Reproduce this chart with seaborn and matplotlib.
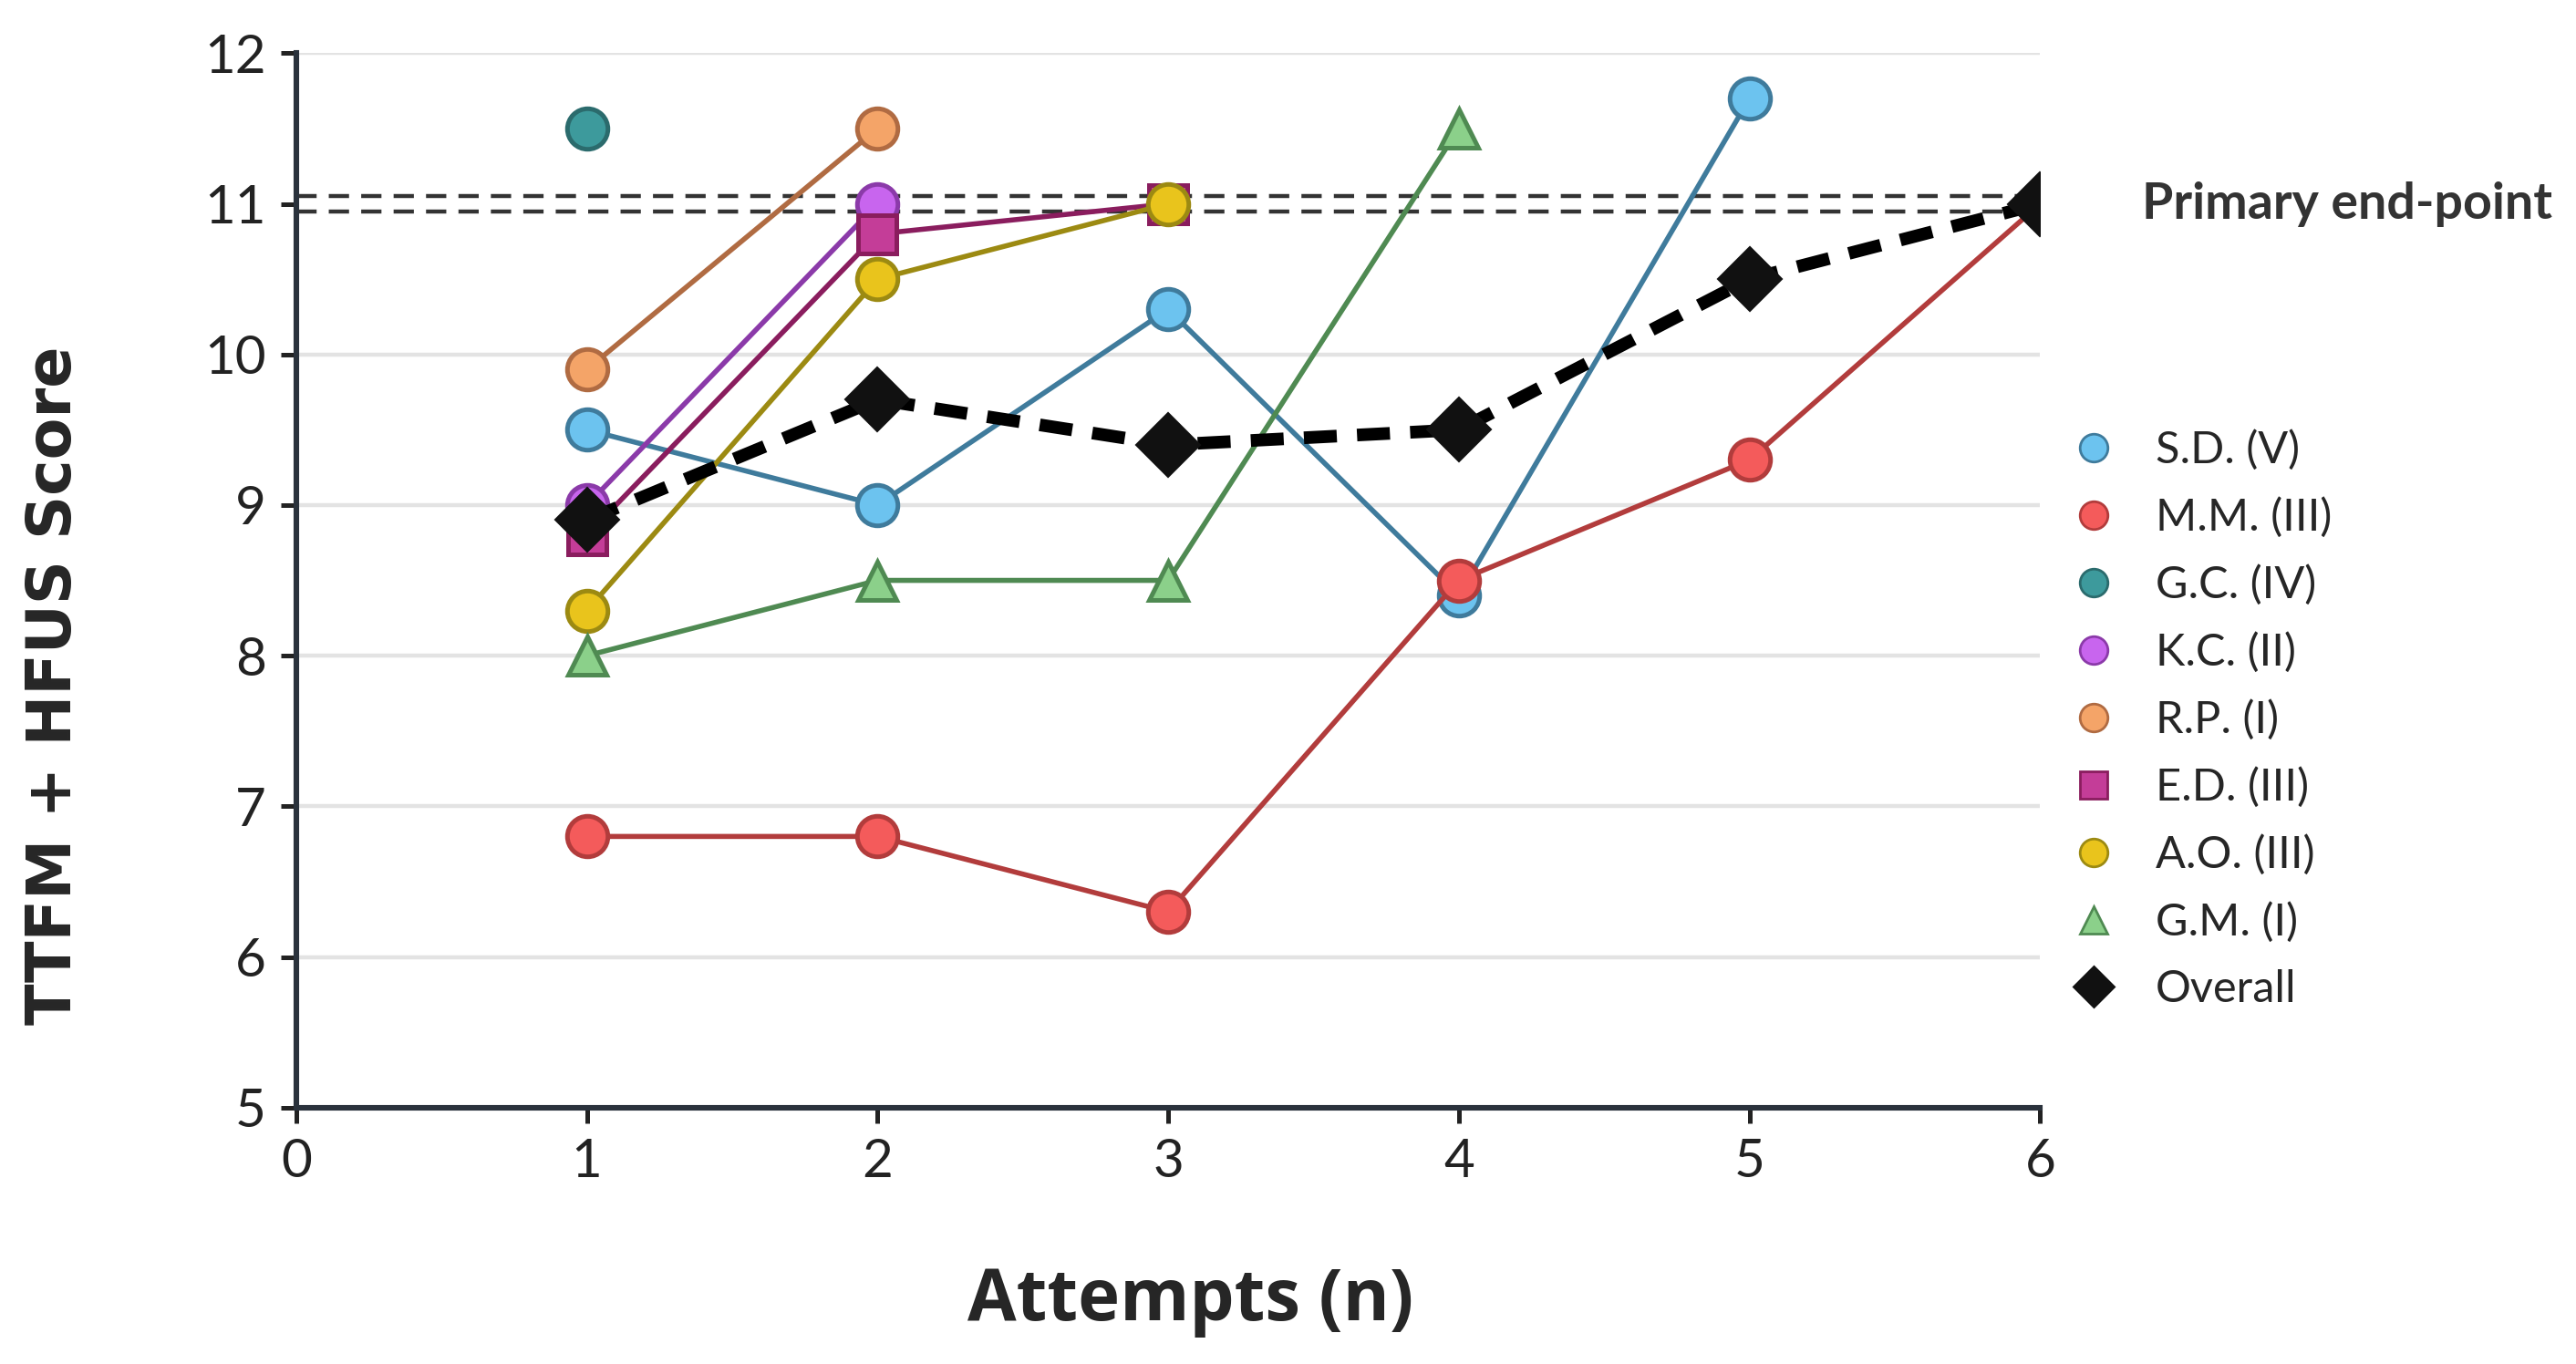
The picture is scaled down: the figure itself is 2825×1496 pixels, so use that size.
import numpy as np
import pandas as pd
import seaborn as sns
import matplotlib.pyplot as plt
from matplotlib.lines import Line2D

# scores per patient by attempt
attempts = [1, 2, 3, 4, 5, 6]
sd_scores = [9.5, 9.0, 10.3, 8.4, 11.7]
mm_scores = [6.8, 6.8, 6.3, 8.5, 9.3, 11.0]
gc_scores = [11.5]
kc_scores = [9.0, 11.0]
rp_scores = [9.9, 11.5]
ed_scores = [8.8, 10.8, 11.0]
ao_scores = [8.3, 10.5, 11.0]
gm_scores = [8.0, 8.5, 8.5, 11.5]
overall_scores = [8.9, 9.7, 9.4, 9.5, 10.5, 11.0]
endpoint = 11

names = ['S.D. (V)', 'M.M. (III)', 'G.C. (IV)', 'K.C. (II)', 'R.P. (I)',
         'E.D. (III)', 'A.O. (III)', 'G.M. (I)']
series = [sd_scores, mm_scores, gc_scores, kc_scores, rp_scores,
          ed_scores, ao_scores, gm_scores]
face_cols = ['#6cc3ef', '#f45b5b', '#3d9a9c', '#c865ee', '#f4a468',
             '#c43d98', '#e9c41c', '#8bd08a']
line_cols = ['#3f7b9c', '#b23c3c', '#2b6b6d', '#8b3aa9', '#b06b42',
             '#8a1d5e', '#9c8a12', '#4f8a52']
markers = ['o', 'o', 'o', 'o', 'o', 's', 'o', '^']

sns.set_style('white')
plt.rcParams['font.family'] = ['Lato', 'DejaVu Sans']

fig = plt.figure(figsize=(14.125, 7.48), dpi=200)
ax = fig.add_axes([0.115, 0.188, 0.677, 0.773])

for y in range(5, 13):
    if y != endpoint:
        ax.axhline(y, color='#e3e3e3', lw=1.6, zorder=0)
ax.axhline(endpoint + 0.05, color='#333333', lw=1.6, ls=(0, (5, 3)), zorder=1)
ax.axhline(endpoint - 0.05, color='#333333', lw=1.6, ls=(0, (5, 3)), zorder=1)

for name, vals, fc, lc, m in zip(names, series, face_cols, line_cols, markers):
    df = pd.DataFrame({'x': attempts[:len(vals)], 'y': vals})
    ms = 16 if m == 'o' else 15
    sns.lineplot(data=df, x='x', y='y', ax=ax, color=lc, lw=2,
                 marker=m, markersize=ms, markerfacecolor=fc,
                 markeredgecolor=lc, markeredgewidth=1.8, zorder=3)

df_all = pd.DataFrame({'x': attempts, 'y': overall_scores})
sns.lineplot(data=df_all, x='x', y='y', ax=ax, color='black', lw=5,
             ls=(0, (2.6, 1.6)), marker='D', markersize=18,
             markerfacecolor='#111111', markeredgecolor='#111111', zorder=4)

ax.set_xlim(0, 6)
ax.set_ylim(5, 12)
ax.set_xticks(range(0, 7))
ax.set_yticks(range(5, 13))
ax.tick_params(labelsize=21, colors='#222222', length=6, width=1.8,
               direction='out', bottom=True, left=True, pad=6)
for s in ['top', 'right']:
    ax.spines[s].set_visible(False)
for s in ['left', 'bottom']:
    ax.spines[s].set_color('#2a323c')
    ax.spines[s].set_linewidth(2.2)

ax.set_xlabel('Attempts (n)', fontsize=28, fontweight='bold',
              family=['Open Sans', 'DejaVu Sans'])
ax.xaxis.set_label_coords(0.513, -0.15)
ax.set_ylabel('TTFM + HFUS Score', fontsize=24, fontweight='bold',
              family=['DejaVu Sans'])
ax.yaxis.set_label_coords(-0.122, 0.40)

ax.text(6.35, endpoint, 'Primary end-point', fontsize=20, fontweight='bold',
        color='#333333', va='center', ha='left', clip_on=False)

handles = []
for name, fc, lc, m in zip(names, face_cols, line_cols, markers):
    handles.append(Line2D([], [], ls='none', marker=m, markersize=11,
                          markerfacecolor=fc, markeredgecolor=lc,
                          markeredgewidth=1, label=name))
handles.append(Line2D([], [], ls='none', marker='D', markersize=11,
                      markerfacecolor='#111111', markeredgecolor='#111111',
                      label='Overall'))
ax.legend(handles=handles, loc='upper left', bbox_to_anchor=(0.995, 0.66),
          frameon=False, fontsize=17.5, labelspacing=0.6, handletextpad=0.4,
          borderaxespad=0)

fig.savefig('out.png', dpi=200)
